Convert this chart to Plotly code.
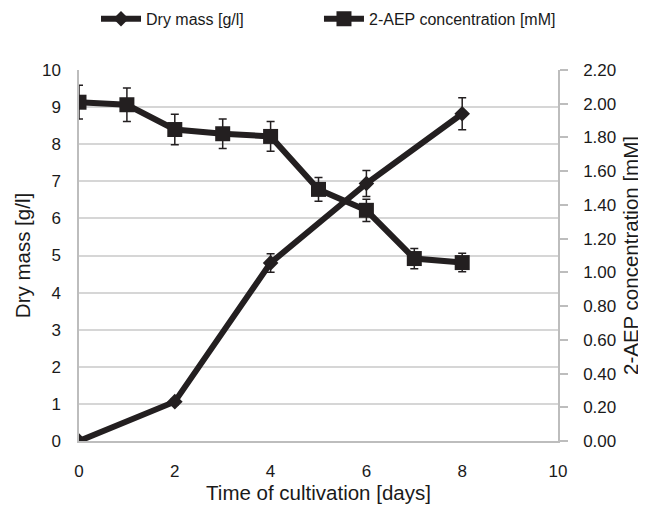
import plotly.graph_objects as go

days_dm = [0, 2, 4, 6, 8]
dry_mass = [0.0, 1.06, 4.80, 6.94, 8.82]
dry_mass_err = [0.0, 0.08, 0.25, 0.35, 0.43]

days_aep = [0, 1, 2, 3, 4, 5, 6, 7, 8]
aep = [2.009, 1.994, 1.847, 1.822, 1.806, 1.492, 1.368, 1.082, 1.058]
aep_err = [0.10, 0.10, 0.09, 0.088, 0.088, 0.07, 0.066, 0.06, 0.055]

dark = "#231f20"
grid = "#d6d6d6"
axis_col = "#bdbdbd"
font = "Liberation Sans, Arial, sans-serif"

fig = go.Figure()
fig.add_trace(go.Scatter(
    x=days_dm, y=dry_mass, name="Dry mass [g/l]", mode="lines+markers",
    line=dict(color=dark, width=6),
    marker=dict(symbol="diamond", size=12, color=dark),
    error_y=dict(type="data", array=dry_mass_err, color=dark, thickness=1.5, width=4),
    yaxis="y", legend="legend",
))
fig.add_trace(go.Scatter(
    x=days_aep, y=aep, name="2-AEP concentration [mM]", mode="lines+markers",
    line=dict(color=dark, width=6),
    marker=dict(symbol="square", size=15, color=dark),
    error_y=dict(type="data", array=aep_err, color=dark, thickness=1.5, width=4),
    yaxis="y2", legend="legend2",
))

legend_common = dict(orientation="h", xanchor="left", y=1.138, yanchor="middle",
                     font=dict(size=16), itemwidth=40, bgcolor="rgba(0,0,0,0)")

fig.update_layout(
    width=638, height=498,
    margin=dict(l=71, r=88, t=62, b=65, autoexpand=False),
    paper_bgcolor="white", plot_bgcolor="white",
    font=dict(family=font, size=17, color="#1a1a1a"),
    showlegend=True,
    legend=dict(x=0.0355, **legend_common),
    legend2=dict(x=0.501, **legend_common),
    xaxis=dict(range=[0, 10], dtick=2, tick0=0, showgrid=False, zeroline=False,
               showline=True, linecolor=axis_col, linewidth=1.5,
               ticks="", ticklabelstandoff=14, automargin=False,
               title=dict(text="Time of cultivation [days]", font=dict(size=20.5), standoff=4)),
    yaxis=dict(range=[0, 10], dtick=1, tick0=0, showgrid=True, gridcolor=grid, gridwidth=1.5,
               zeroline=False, showline=True, linecolor=axis_col, linewidth=1.5,
               ticks="", ticklabelstandoff=13, automargin=False,
               title=dict(text="Dry mass [g/l]", font=dict(size=20.5), standoff=6)),
    yaxis2=dict(range=[0, 2.2], dtick=0.2, tick0=0, tickformat=".2f", overlaying="y", side="right",
                showgrid=False, zeroline=False, showline=True, linecolor=axis_col, linewidth=1.5,
                ticks="outside", ticklen=8, tickcolor=axis_col, tickwidth=1.5, ticklabelstandoff=12,
                automargin=False,
                title=dict(text="2-AEP concentration [mM]", font=dict(size=20.5), standoff=8)),
)

fig.write_html("out.html")
